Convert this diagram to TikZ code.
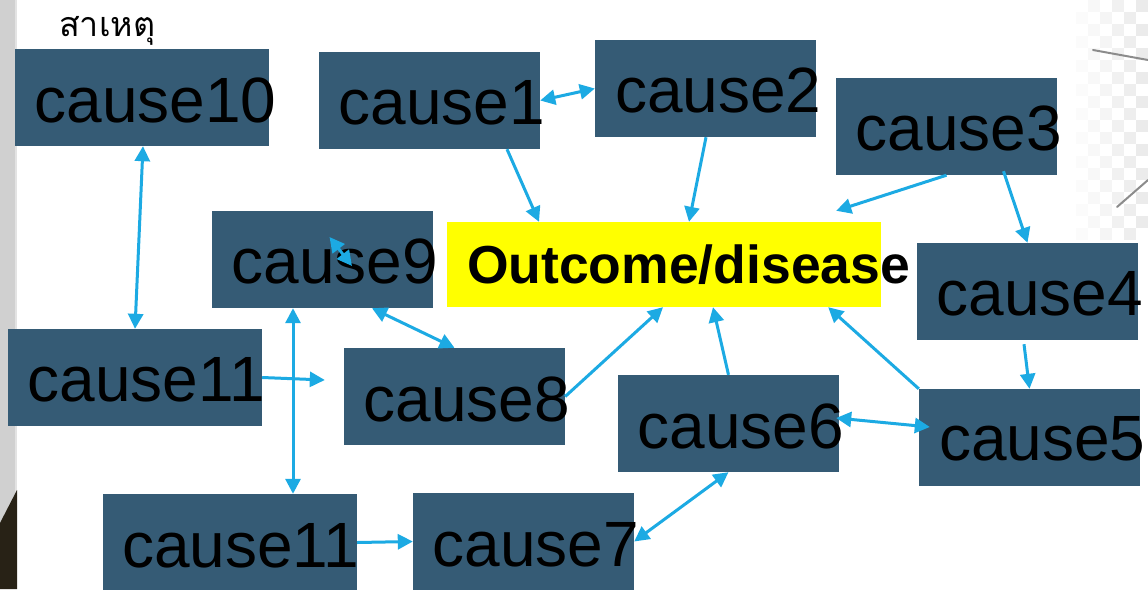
\documentclass[tikz,border=0pt]{standalone}
\usepackage{fontspec}
\setmainfont{Liberation Sans}
\newfontfamily\thaifont[Script=Thai]{Loma}
\usetikzlibrary{arrows.meta}
\definecolor{boxblue}{RGB}{53,91,117}
\definecolor{linkblue}{RGB}{28,170,227}
\definecolor{hiyellow}{RGB}{255,255,0}
\definecolor{stripgray}{RGB}{208,208,208}
\definecolor{darkobj}{RGB}{40,34,22}
\begin{document}
\begin{tikzpicture}[x=1pt,y=-1pt,
  causebox/.style={fill=boxblue, draw=none, minimum height=97pt, inner sep=0pt},
  narrow/.style={minimum width=221pt},
  wide/.style={minimum width=254pt},
  caption/.style={font=\fontsize{64}{64}\selectfont, text=black, inner sep=0pt, anchor=base west},
  link/.style={draw=linkblue, line width=3pt, -{Triangle[length=15pt,width=15pt]}},
  twoway/.style={draw=linkblue, line width=3pt, {Triangle[length=15pt,width=15pt]}-{Triangle[length=15pt,width=15pt]}},
]
\useasboundingbox (0,0) rectangle (1148,589);
\fill[white] (0,0) rectangle (1148,589);

% decorative edges
\fill[stripgray] (0,0) rectangle (15,589);
\fill[stripgray!60] (15,0) rectangle (17,589);
\fill[darkobj] (0,523) -- (17,490) -- (17,589) -- (0,589) -- cycle;
\foreach \i in {0,...,5}{
  \foreach \j in {0,...,19}{
    \pgfmathsetmacro{\op}{(\i+1)/8}
    \pgfmathtruncatemacro{\parity}{mod(\i+\j,2)}
    \ifnum\parity=1
      \fill[black!10, opacity=\op] (1076+12*\i,12*\j) rectangle ++(12,12);
    \fi
  }
}
\draw[black!45, line width=2pt, line cap=round] (1093,50) -- (1148,60);
\draw[black!45, line width=2pt, line cap=round] (1117,207) -- (1148,180);

% heading
\node[font=\thaifont\fontsize{34}{34}\selectfont, anchor=base west, inner sep=0pt] (head) at (59,36) {สาเหตุ};

% boxes
\node[causebox, wide]   (c10)  at (142,97.5)   {};
\node[causebox, narrow] (c1)   at (429.5,100.5) {};
\node[causebox, narrow] (c2)   at (705.5,88.5)  {};
\node[causebox, narrow] (c3)   at (946.5,126.5) {};
\node[causebox, narrow] (c9)   at (322.5,259.5) {};
\node[fill=hiyellow, minimum width=434pt, minimum height=85pt, inner sep=0pt] (out) at (664,264.5) {};
\node[causebox, narrow] (c4)   at (1027.5,291.5) {};
\node[causebox, wide]   (c11a) at (135,377.5)  {};
\node[causebox, narrow] (c8)   at (454.5,396.5) {};
\node[causebox, narrow] (c6)   at (728.5,423.5) {};
\node[causebox, narrow] (c5)   at (1029.5,437.5) {};
\node[causebox, wide]   (c11b) at (230,542.5)  {};
\node[causebox, narrow] (c7)   at (523.5,541.5) {};

% labels
\node[caption] (t10)  at ([xshift=19.5pt,yshift=24pt]c10.south west)  {cause10};
\node[caption] (t1)   at ([xshift=19.5pt,yshift=25pt]c1.south west)   {cause1};
\node[caption] (t2)   at ([xshift=20pt,yshift=25pt]c2.south west)     {cause2};
\node[caption] (t3)   at ([xshift=19.5pt,yshift=25pt]c3.south west)   {cause3};
\node[caption] (t9)   at ([xshift=19.5pt,yshift=25pt]c9.south west)   {cause9};
\node[caption] (t4)   at ([xshift=19.5pt,yshift=25pt]c4.south west)   {cause4};
\node[caption] (t11a) at ([xshift=19.5pt,yshift=25pt]c11a.south west) {cause11};
\node[caption] (t8)   at ([xshift=19.5pt,yshift=24pt]c8.south west)   {cause8};
\node[caption] (t6)   at ([xshift=19.5pt,yshift=24pt]c6.south west)   {cause6};
\node[caption] (t5)   at ([xshift=20pt,yshift=26pt]c5.south west)     {cause5};
\node[caption] (t11b) at ([xshift=19pt,yshift=24pt]c11b.south west)   {cause11};
\node[caption] (t7)   at ([xshift=19.5pt,yshift=24pt]c7.south west)   {cause7};
\node[font=\bfseries\fontsize{53.5}{53.5}\selectfont, anchor=base west, inner sep=0pt] (tout)
  at ([xshift=20pt,yshift=24pt]out.south west) {Outcome/disease};

% connectors
\draw[twoway] (c1.east) -- (c2.west);
\draw[link] ([xshift=77.5pt]c1.south) -- ([xshift=-125pt]out.north);
\draw[link] ([xshift=0.5pt]c2.south) -- ([xshift=25pt]out.north);
\draw[link] (c3.south) -- ([xshift=-45pt,yshift=11pt]out.north east);
\draw[link] ([xshift=57pt,yshift=4pt]c3.south) -- (c4.north);
\draw[link] ([xshift=-3.5pt,yshift=-4pt]c4.south) -- (c5.north);
\draw[link] (c5.north west) -- ([xshift=-53pt]out.south east);
\draw[twoway] ([xshift=-3pt,yshift=5.5pt]c6.east) -- ([xshift=11pt,yshift=10.5pt]c5.west);
\draw[link] (c6.north) -- ([xshift=49pt]out.south);
\draw[link] (c8.east) -- ([xshift=-1pt]out.south);
\draw[twoway] (c6.south) -- (c7.east);
\draw[link] (c11b.east) -- (c7.west);
\draw[link] (c11a.east) -- ([xshift=-19pt,yshift=16.5pt]c8.west);
\draw[twoway] ([xshift=-29.5pt]c9.south) -- ([xshift=63pt]c11b.north);
\draw[twoway] ([xshift=1pt]c10.south) -- (c11a.north);
\draw[twoway] ([xshift=49.5pt]c9.south) -- (c8.north);
\draw[twoway] ([xshift=7pt,yshift=22.5pt]c9.center) -- ([xshift=29.5pt,yshift=-6.5pt]c9.center);
\end{tikzpicture}
\end{document}
